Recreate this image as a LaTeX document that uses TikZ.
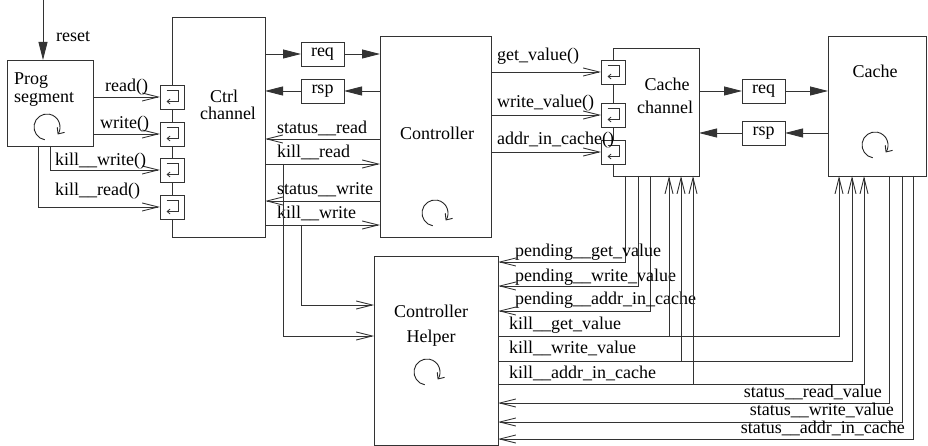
\documentclass[tikz,border=0pt]{standalone}
\usepackage{fontspec}
\setmainfont{Liberation Serif}
\usetikzlibrary{arrows.meta}
\begin{document}
\begin{tikzpicture}[x=1pt,y=-1pt,
  every node/.style={font=\fontsize{18}{20}\selectfont},
  ln/.style={draw=black!80, line width=0.9pt},
  box/.style={ln, fill=white, inner sep=0pt, outer sep=0pt, anchor=north west},
  portbox/.style={ln, fill=white, inner sep=0pt, outer sep=0pt, minimum width=24pt, minimum height=24pt,
    path picture={\draw[black!80, line width=0.8pt, -{Straight Barb[length=3pt,width=5pt]}]
      ([shift={(-5.5,-6.5)}]path picture bounding box.center) -- ([shift={(6,-6.5)}]path picture bounding box.center)
      -- ([shift={(6,4.5)}]path picture bounding box.center) -- ([shift={(-5.5,4.5)}]path picture bounding box.center);}},
  msgbox/.style={ln, fill=white, inner sep=0pt, outer sep=0pt, minimum width=43pt, minimum height=24pt},
  opn/.style={ln, -{Straight Barb[length=16pt,width=8pt]}},
  fil/.style={ln, -{Triangle[length=18pt,width=9pt]}},
  lbl/.style={anchor=base west, inner sep=0pt},
  lblr/.style={anchor=base east, inner sep=0pt},
  txt/.style={inner sep=0pt, anchor=base},
  loopsym/.style={draw=black!85, line width=0.9pt, -{Straight Barb[length=5pt,width=9pt]}}
]
\useasboundingbox (0,0) rectangle (928,446);

% ---------- boxes ----------
\node[box, minimum width=86pt, minimum height=86pt] (prog) at (7,60) {};
\node[box, minimum width=93pt, minimum height=220pt] (ctrl) at (172,17) {};
\node[box, minimum width=111pt, minimum height=201pt] (ctrlr) at (380,36) {};
\node[box, minimum width=86pt, minimum height=128pt] (cch) at (613,48) {};
\node[box, minimum width=98pt, minimum height=140pt] (cache) at (828,36) {};
\node[box, minimum width=124pt, minimum height=189pt] (helper) at (374,256) {};

\node[portbox] (p1) at (172,97) {};
\node[portbox] (p2) at (172,134) {};
\node[portbox] (p3) at (172,170) {};
\node[portbox] (p4) at (172,207) {};
\node[portbox] (c1) at (613,72) {};
\node[portbox] (c2) at (613,115) {};
\node[portbox] (c3) at (613,152) {};

\node[msgbox] (reqA) at (322.5,54) {req};
\node[msgbox] (rspA) at (322.5,91) {rsp};
\node[msgbox] (reqB) at (763.5,91) {req};
\node[msgbox] (rspB) at (763.5,133) {rsp};

% ---------- box texts ----------
\node[lbl] (tprog1) at (14,85) {Prog};
\node[lbl] (tprog2) at (14,103) {segment};
\node[txt] (tctrl1) at (224,103) {Ctrl};
\node[txt] (tctrl2) at (228,120) {channel};
\node[txt] (tctrlr) at (437,140) {Controller};
\node[txt] (tcch1) at (667,91) {Cache};
\node[txt] (tcch2) at (665,114) {channel};
\node[txt] (tcache) at (875,78) {Cache};
\node[txt] (thelp1) at (431,317) {Controller};
\node[txt] (thelp2) at (431,342) {Helper};

% ---------- loop symbols ----------
\coordinate (l1) at (47,127);
\coordinate (l2) at (435,213);
\coordinate (l3) at (875,145);
\coordinate (l4) at (427,372);
\foreach \c in {l1,l2,l3,l4}
  \draw[loopsym] (\c) ++(-100:13pt) arc[start angle=-100, end angle=-395, radius=13pt];

% ---------- reset ----------
\coordinate (rs) at (43,0);
\draw[fil] (rs) -- (rs |- prog.north);
\node[lbl] (treset) at (56,42) {reset};

% ---------- prog -> ctrl channel ----------
\draw[opn] (prog.east |- p1) -- (p1.west);
\draw[opn] (prog.east |- p2) -- (p2.west);
\coordinate (xkw) at (50,0);
\coordinate (xkr) at (38,0);
\draw[opn] (xkw |- prog.south) |- (p3.west);
\draw[opn] (xkr |- prog.south) |- (p4.west);
\node[lbl] (tread) at (105,92) {read()};
\node[lbl] (twrite) at (100,129) {write()};
\node[lbl] (tkw) at (55,166) {kill\_\_write()};
\node[lbl] (tkr) at (55,196) {kill\_\_read()};

% ---------- ctrl <-> controller ----------
\draw[fil] (ctrl.east |- reqA) -- (reqA.west);
\draw[fil] (reqA.east) -- (ctrlr.west |- reqA);
\draw[fil] (ctrlr.west |- rspA) -- (rspA.east);
\draw[fil] (rspA.west) -- (ctrl.east |- rspA);

\coordinate (ysr) at (0,139);
\coordinate (ykr) at (0,164);
\coordinate (ysw) at (0,201);
\coordinate (ykw) at (0,225);
\draw[opn] (ctrlr.west |- ysr) -- (ctrl.east |- ysr);
\draw[opn] (ctrl.east |- ykr) -- (ctrlr.west |- ykr);
\draw[opn] (ctrlr.west |- ysw) -- (ctrl.east |- ysw);
\draw[opn] (ctrl.east |- ykw) -- (ctrlr.west |- ykw);
\node[lbl] (tsr) at (277,134) {status\_\_read};
\node[lbl] (tkr2) at (277,158) {kill\_\_read};
\node[lbl] (tsw) at (277,195) {status\_\_write};
\node[lbl] (tkw2) at (277,219) {kill\_\_write};

% branches to helper
\coordinate (bx1) at (283,0);
\coordinate (bx2) at (301,0);
\coordinate (yh1) at (0,305);
\coordinate (yh2) at (0,336);
\draw[opn] (bx1 |- ykr) |- (helper.west |- yh2);
\draw[opn] (bx2 |- ykw) |- (helper.west |- yh1);

% ---------- controller -> cache channel ----------
\draw[opn] (ctrlr.east |- c1) -- (c1.west);
\draw[opn] (ctrlr.east |- c2) -- (c2.west);
\draw[opn] (ctrlr.east |- c3) -- (c3.west);
\node[lbl] (tgv) at (497,61) {get\_value()};
\node[lbl] (twv) at (497,108) {write\_value()};
\node[lbl] (tac) at (497,145) {addr\_in\_cache()};

% ---------- cache channel <-> cache ----------
\draw[fil] (cch.east |- reqB) -- (reqB.west);
\draw[fil] (reqB.east) -- (cache.west |- reqB);
\draw[fil] (cache.west |- rspB) -- (rspB.east);
\draw[fil] (rspB.west) -- (cch.east |- rspB);

% ---------- pending lines ----------
\coordinate (xp1) at (625,0);
\coordinate (xp2) at (638,0);
\coordinate (xp3) at (650,0);
\coordinate (yp1) at (0,262);
\coordinate (yp2) at (0,286);
\coordinate (yp3) at (0,311);
\draw[opn] (xp1 |- cch.south) |- (helper.east |- yp1);
\draw[opn] (xp2 |- cch.south) |- (helper.east |- yp2);
\draw[opn] (xp3 |- cch.south) |- (helper.east |- yp3);
\node[lbl] (tpg) at (515,256) {pending\_\_get\_value};
\node[lbl] (tpw) at (515,281) {pending\_\_write\_value};
\node[lbl] (tpa) at (515,304) {pending\_\_addr\_in\_cache};

% ---------- kill lines ----------
\coordinate (xk1) at (669,0);
\coordinate (xk2) at (681,0);
\coordinate (xk3) at (693,0);
\coordinate (xq1) at (839,0);
\coordinate (xq2) at (852,0);
\coordinate (xq3) at (864,0);
\coordinate (yk1) at (0,336);
\coordinate (yk2) at (0,361);
\coordinate (yk3) at (0,384);
\draw[opn] (helper.east |- yk1) -| (xq1 |- cache.south);
\draw[opn] (helper.east |- yk2) -| (xq2 |- cache.south);
\draw[opn] (helper.east |- yk3) -| (xq3 |- cache.south);
\draw[opn] (xk1 |- yk1) -- (xk1 |- cch.south);
\draw[opn] (xk2 |- yk2) -- (xk2 |- cch.south);
\draw[opn] (xk3 |- yk3) -- (xk3 |- cch.south);
\node[lbl] (tkg) at (509,329) {kill\_\_get\_value};
\node[lbl] (tkwv) at (509,353) {kill\_\_write\_value};
\node[lbl] (tka) at (509,378) {kill\_\_addr\_in\_cache};

% ---------- status lines ----------
\coordinate (xs1) at (889,0);
\coordinate (xs2) at (902,0);
\coordinate (xs3) at (913,0);
\coordinate (ys1) at (0,403);
\coordinate (ys2) at (0,422);
\coordinate (ys3) at (0,439);
\draw[opn] (xs1 |- cache.south) |- (helper.east |- ys1);
\draw[opn] (xs2 |- cache.south) |- (helper.east |- ys2);
\draw[opn] (xs3 |- cache.south) |- (helper.east |- ys3);
\node[lblr] (tsrv) at (882,397) {status\_\_read\_value};
\node[lblr] (tswv) at (894,415) {status\_\_write\_value};
\node[lblr] (tsac) at (905,433) {status\_\_addr\_in\_cache};
\end{tikzpicture}
\end{document}
